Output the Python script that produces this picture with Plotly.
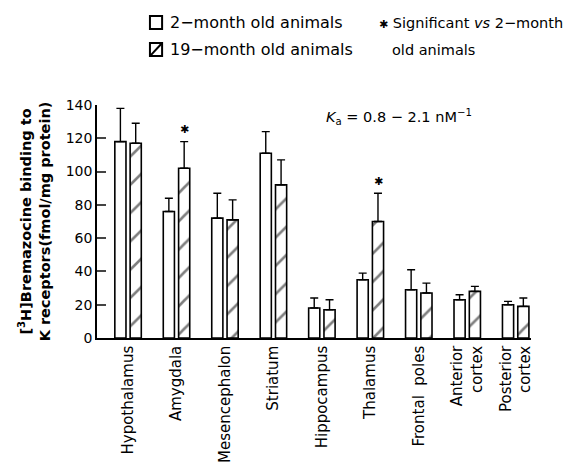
import plotly.graph_objects as go

regions = ["Hypothalamus", "Amygdala", "Mesencephalon", "Striatum", "Hippocampus",
           "Thalamus", "Frontal  poles", "Anterior<br>cortex", "Posterior<br>cortex"]
young = [118, 76, 72, 111, 18, 35, 29, 23, 20]
young_err = [20, 8, 15, 13, 6, 4, 12, 3, 2]
old = [117, 102, 71, 92, 17, 70, 27, 28, 19]
old_err = [12, 16, 12, 15, 6, 17, 6, 3, 5]
significant = [False, True, False, False, False, True, False, False, False]

FONT = "DejaVu Sans"
fig = go.Figure()
fig.add_trace(go.Bar(
    x=regions, y=young, name="2\u2212month old animals",
    width=0.23, offset=-0.273,
    marker=dict(color="white", line=dict(color="black", width=1.6)),
    error_y=dict(type="data", symmetric=False, array=young_err,
                 arrayminus=[0] * len(young), color="black", thickness=1.4, width=4),
))
fig.add_trace(go.Bar(
    x=regions, y=old, name="19\u2212month old animals",
    width=0.23, offset=0.043,
    marker=dict(color="white", line=dict(color="black", width=1.6),
                pattern=dict(shape="/", size=20, solidity=0.13,
                             fgcolor="black", bgcolor="white")),
    error_y=dict(type="data", symmetric=False, array=old_err,
                 arrayminus=[0] * len(old), color="black", thickness=1.4, width=4),
))

# significance stars above the 19-month bars
for i, r in enumerate(regions):
    if significant[i]:
        fig.add_annotation(x=r, y=old[i] + old_err[i], text="\u2731",
                           showarrow=False, yshift=12, xshift=8, yanchor="middle",
                           font=dict(family=FONT, size=11, color="black"))

# manual legend (paper coordinates)
shapes = [
    dict(type="rect", xref="paper", yref="paper", x0=0.122, x1=0.150, y0=1.326, y1=1.382,
         line=dict(color="black", width=2), fillcolor="white"),
    dict(type="rect", xref="paper", yref="paper", x0=0.122, x1=0.150, y0=1.210, y1=1.266,
         line=dict(color="black", width=2), fillcolor="white"),
    dict(type="line", xref="paper", yref="paper", x0=0.122, x1=0.150, y0=1.210, y1=1.266,
         line=dict(color="black", width=2)),
]
fig.update_layout(shapes=shapes)
lf = dict(family=FONT, size=16, color="black")
rf = dict(family=FONT, size=14.5, color="black")
fig.add_annotation(xref="paper", yref="paper", x=0.163, y=1.354, xanchor="left", yanchor="middle",
                   text="2\u2212month old animals", showarrow=False, font=lf)
fig.add_annotation(xref="paper", yref="paper", x=0.163, y=1.238, xanchor="left", yanchor="middle",
                   text="19\u2212month old animals", showarrow=False, font=lf)
fig.add_annotation(xref="paper", yref="paper", x=0.645, y=1.354, xanchor="left", yanchor="middle",
                   text="<span style='font-size:11px'>\u2731</span> Significant <i>vs</i> 2\u2212month",
                   showarrow=False, font=rf)
fig.add_annotation(xref="paper", yref="paper", x=0.675, y=1.238, xanchor="left", yanchor="middle",
                   text="old animals", showarrow=False, font=rf)

fig.add_annotation(xref="paper", yref="paper", x=0.697, y=0.948, xanchor="center", yanchor="middle",
                   text="<i>K</i><sub>a</sub> = 0.8 \u2212 2.1 nM<sup>\u22121</sup>",
                   showarrow=False, font=dict(family=FONT, size=14.5, color="black"))

fig.update_layout(
    width=568, height=458,
    margin=dict(l=89, r=45, t=97, b=128),
    plot_bgcolor="white", paper_bgcolor="white",
    font=dict(family=FONT, size=14, color="black"),
    showlegend=False,
    xaxis=dict(range=[-0.641, 8.316], showline=True, linecolor="black", linewidth=1.5,
               ticks="", tickangle=-90, tickfont=dict(size=15), showgrid=False,
               automargin=False),
    yaxis=dict(range=[0, 140], showline=True, linecolor="black", linewidth=1.5,
               ticks="inside", ticklen=9, tickwidth=1.5, dtick=20,
               tickfont=dict(size=14), showgrid=False, zeroline=False, automargin=False,
               title=dict(text="<b>[<sup>3</sup>H]Bremazocine binding to<br>K receptors(fmol/mg protein)</b>",
                          font=dict(size=14.5), standoff=12)),
)
fig.write_html("out.html")
